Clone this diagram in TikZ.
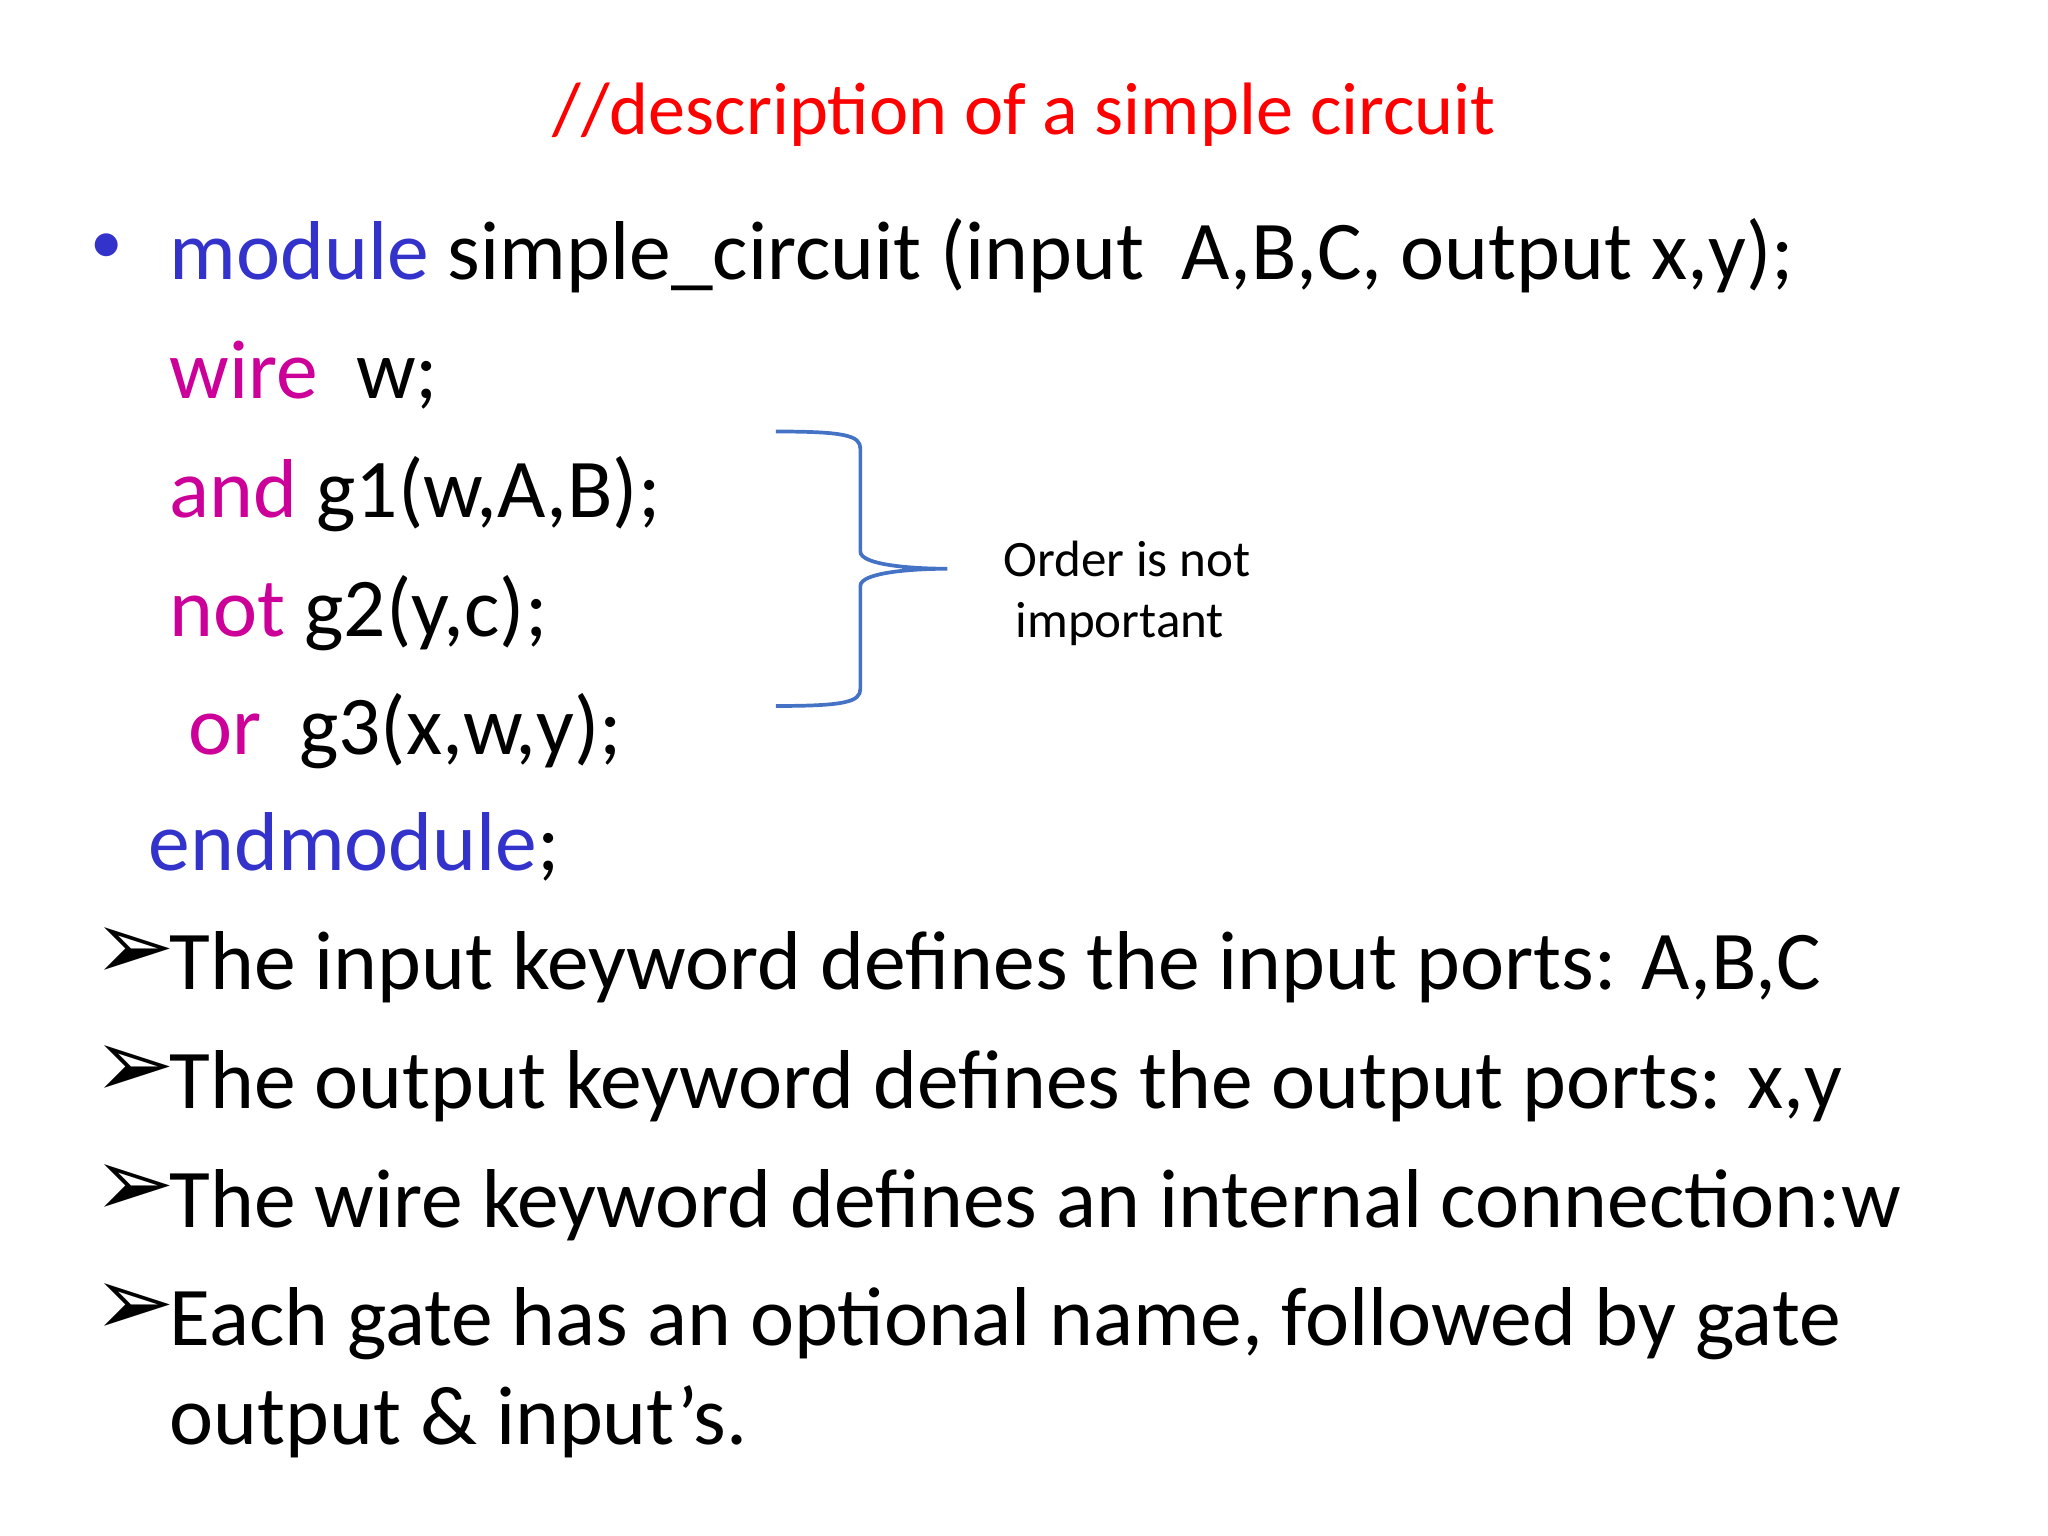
\documentclass[tikz,border=0pt]{standalone}
\usepackage{fontspec}
\setmainfont{Carlito}
\newfontfamily\dvs{DejaVu Sans}
\definecolor{kwblue}{RGB}{51,51,204}
\definecolor{kwmag}{RGB}{204,0,153}
\definecolor{brc}{RGB}{68,114,196}
\begin{document}
\begin{tikzpicture}[x=0.01cm,y=-0.01cm,
  txt/.style={anchor=base west,inner sep=0pt,font=\fontsize{18}{22}\selectfont},
  arr/.style={anchor=base west,inner sep=0pt,font=\dvs\fontsize{21}{24}\selectfont}]
\useasboundingbox (0,0) rectangle (1552,1164);
\node[anchor=base west,inner sep=0pt,font=\fontsize{16}{19}\selectfont,text=red] (t) at (418,102) {//description of a simple circuit};
\node[anchor=base west,inner sep=0pt,text=kwblue,font=\fontsize{14}{17}\selectfont] (b) at (68,200) {•};
\node[txt] (l1) at (128,212) {\textcolor{kwblue}{module} simple\_circuit (input\ \ A,B,C, output x,y);};
\node[txt] (l2) at (128,302) {\textcolor{kwmag}{wire}\ \ w;};
\node[txt] (l3) at (128,392) {\textcolor{kwmag}{and} g1(w,A,B);};
\node[txt] (l4) at (128,482) {\textcolor{kwmag}{not} g2(y,c);};
\node[txt] (l5) at (142,572) {\textcolor{kwmag}{or}\ \ g3(x,w,y);};
\node[txt] (l6) at (112,660) {\textcolor{kwblue}{endmodule};};
\node[arr] (a1) at (70,742) {➢};
\node[txt] (p1) at (128,750) {The input keyword defines the input ports: A,B,C};
\node[arr] (a2) at (70,832) {➢};
\node[txt] (p2) at (128,840) {The output keyword defines the output ports: x,y};
\node[arr] (a3) at (70,922) {➢};
\node[txt] (p3) at (128,930) {The wire keyword defines an internal connection:w};
\node[arr] (a4) at (70,1012) {➢};
\node[txt] (p4) at (128,1020) {Each gate has an optional name, followed by gate};
\node[txt] (p5) at (128,1095) {output \& input’s.};
\draw[brc,line width=0.8pt] (588,327) .. controls (640,327) and (652,330) .. (652,340) -- (652,418) .. controls (652,428) and (690,431) .. (718,431) .. controls (690,431) and (652,434) .. (652,444) -- (652,522) .. controls (652,532) and (640,535) .. (588,535);
\node[anchor=base west,inner sep=0pt,font=\fontsize{11}{13}\selectfont] (o1) at (760,437) {Order is not};
\node[anchor=base west,inner sep=0pt,font=\fontsize{11}{13}\selectfont] (o2) at (769,483) {important};
\end{tikzpicture}
\end{document}
